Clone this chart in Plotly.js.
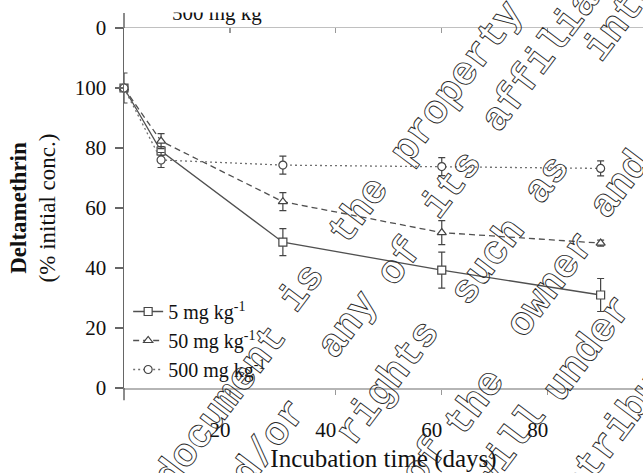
<!DOCTYPE html>
<html>
<head>
<meta charset="utf-8">
<script src="https://cdn.plot.ly/plotly-3.0.1.min.js"></script>
<style>
  html, body { margin: 0; padding: 0; background: #fff; }
  #chart { width: 643px; height: 473px; }
  /* hollow outline lettering for the diagonal notice words */
  text.annotation-text[style*="Liberation Mono"] {
    fill: none !important;
    stroke: #2a2a2a !important;
    stroke-width: 0.9px !important;
  }
</style>
</head>
<body>
<div id="chart"></div>
<script>
// Incubation days and remaining deltamethrin (% of initial concentration)
const days = [0, 7, 30, 60, 90];

const dose5 = [100, 79, 48.6, 39.3, 31.0];
const dose5Err = [5, 1.5, 4.5, 6, 5.5];

const dose50 = [100, 82.3, 62.1, 51.8, 48.3];
const dose50Err = [1, 2.5, 3, 4, 1];

const dose500 = [100, 76, 74.3, 73.8, 73.2];
const dose500Err = [1, 2.5, 3, 3, 2.5];

const seriesNames = ['5 mg kg<sup>-1</sup>', '50 mg kg<sup>-1</sup>', '500 mg kg<sup>-1</sup>'];

const xTicks = [20, 40, 60, 80];
const yTicks = [0, 20, 40, 60, 80, 100, 120];
const yTickText = ['0', '20', '40', '60', '80', '100', '0'];

// Diagonal outlined notice printed across the figure
const noticeWords = ['document', 'is', 'the', 'property', 'and/or', 'any', 'of', 'its',
  'affiliates', 'rights', 'such', 'as', 'intellectual', 'of', 'the', 'owner', 'and',
  'will', 'under', 'distribution'];
const noticeAt = [[221, 407], [302, 288], [359, 211], [457, 83], [255, 462], [348, 325],
  [400, 262], [452, 185], [563, 32], [388, 383], [488, 262], [547, 180], [680, -58],
  [425, 462], [475, 403], [551, 285], [620, 185], [509, 447], [588, 349], [627, 417]];

const SERIF = 'Liberation Serif';
const LINE = '#505050';

// plot frame in page pixels
const M = { l: 124, r: 0, t: 28, b: 85 };
const W = 643, H = 473;
const pw = W - M.l - M.r, ph = H - M.t - M.b;
const toPaper = (px, py) => [(px - M.l) / pw, (H - M.b - py) / ph];

function series(y, err, name, symbol, dash, lineColor) {
  return {
    x: days, y: y, name: name, type: 'scatter', mode: 'lines+markers',
    line: { color: lineColor, width: 1.3, dash: dash },
    marker: { symbol: symbol, size: 8, color: '#fff', line: { color: '#444', width: 1.2 } },
    error_y: { type: 'data', array: err, visible: true, color: '#444', thickness: 1.2, width: 3.5 },
    cliponaxis: false
  };
}

const data = [
  series(dose5, dose5Err, seriesNames[0], 'square', 'solid', LINE),
  series(dose50, dose50Err, seriesNames[1], 'triangle-up', '6px,4px', LINE),
  series(dose500, dose500Err, seriesNames[2], 'circle', '2px,3px', '#707070'),
  { x: [], y: [], xaxis: 'x2', showlegend: false, hoverinfo: 'skip' }
];

const annotations = [];
// legend entry of the panel above, partly hidden by the page band
const upperLabel = toPaper(170, 27);
annotations.push({
  xref: 'paper', yref: 'paper', x: upperLabel[0], y: upperLabel[1], xanchor: 'left', yanchor: 'bottom',
  text: '500 mg kg<sup>-1</sup>', showarrow: false,
  font: { family: SERIF, size: 21, color: '#111' }
});
// white band along the top edge of the page
const band = toPaper(W / 2, 6);
annotations.push({
  xref: 'paper', yref: 'paper', x: band[0], y: band[1], xanchor: 'center', yanchor: 'middle',
  text: ' ', showarrow: false, width: W, height: 12, borderpad: 0, bgcolor: '#fff'
});
noticeWords.forEach((w, i) => {
  const p = toPaper(noticeAt[i][0], noticeAt[i][1]);
  annotations.push({
    xref: 'paper', yref: 'paper', x: p[0], y: p[1], xanchor: 'center', yanchor: 'middle',
    text: w, showarrow: false, textangle: -53,
    font: { family: 'Liberation Mono', size: 40, weight: 'bold', color: '#333' }
  });
});

const layout = {
  width: W, height: H,
  margin: M,
  paper_bgcolor: '#fff', plot_bgcolor: '#fff',
  font: { family: SERIF, color: '#111', size: 21 },
  showlegend: true,
  legend: {
    x: 0.008, y: toPaper(0, 292)[1], xanchor: 'left', yanchor: 'top',
    bgcolor: 'rgba(0,0,0,0)', font: { family: SERIF, size: 20, color: '#111' },
    itemwidth: 30, tracegroupgap: 0
  },
  xaxis: {
    range: [0, 98], showgrid: false, zeroline: false,
    showline: true, linecolor: '#b5b5b5', linewidth: 1.5,
    ticks: 'outside', ticklen: 5, tickcolor: '#999', tickwidth: 1.2,
    tickvals: xTicks, ticklabelstandoff: 17, ticklabelshift: -10,
    tickfont: { family: SERIF, size: 21, color: '#111' },
    title: { text: 'Incubation time (days)', font: { family: SERIF, size: 25, color: '#111' }, standoff: 9 }
  },
  xaxis2: {
    overlaying: 'x', matches: 'x', side: 'top', anchor: 'y',
    showgrid: false, zeroline: false,
    showline: true, linecolor: '#c0c0c0', linewidth: 1.5,
    ticks: 'inside', ticklen: 5, tickcolor: '#999', tickwidth: 1.2,
    tickvals: xTicks, showticklabels: false
  },
  yaxis: {
    range: [0, 120], showgrid: false, zeroline: false,
    showline: true, linecolor: '#666', linewidth: 1.5,
    ticks: 'outside', ticklen: 8, tickcolor: '#666', tickwidth: 1.2,
    tickvals: yTicks, ticktext: yTickText, ticklabelstandoff: 4,
    tickfont: { family: SERIF, size: 21, color: '#111' },
    title: {
      text: '<b>Deltamethrin</b><br>(% initial conc.)',
      font: { family: SERIF, size: 23, color: '#111' }, standoff: 12
    }
  },
  shapes: [
    { type: 'line', xref: 'paper', yref: 'paper', x0: 0, x1: 0, y0: -0.034, y1: 0,
      line: { color: '#666', width: 1.5 } },
    { type: 'line', xref: 'paper', yref: 'paper', x0: 0, x1: 0, y0: 1, y1: 1.042,
      line: { color: '#666', width: 1.5 } }
  ],
  annotations: annotations
};

Plotly.newPlot('chart', data, layout, { displayModeBar: false, staticPlot: true });
</script>
</body>
</html>
